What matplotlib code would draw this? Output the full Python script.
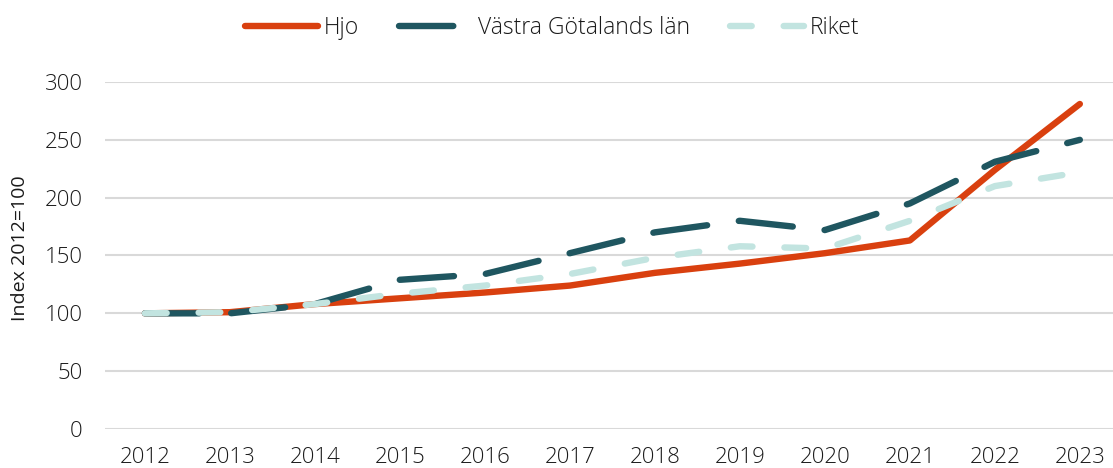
import matplotlib
matplotlib.use("Agg")
import matplotlib.pyplot as plt

years = ["2012", "2013", "2014", "2015", "2016", "2017", "2018", "2019", "2020", "2021", "2022", "2023"]
hjo = [100, 101, 108, 113, 118, 124, 135, 143, 152, 163, 224, 281]
vgr = [100, 100, 108, 129, 134, 152, 170, 180, 172, 195, 231, 250]
riket = [100, 101, 108, 117, 124, 134, 148, 158, 156, 180, 210, 222]
yticks = [0, 50, 100, 150, 200, 250, 300]

plt.rcParams['font.family'] = ['Open Sans', 'DejaVu Sans']
plt.rcParams['font.weight'] = 'light'

TXT = "#1a1a1a"
fig = plt.figure(figsize=(11.13, 4.68), dpi=100)
ax = fig.add_axes([105/1113, 1-429/468, 1-105/1113, (429-82)/468])

x = list(range(len(years)))
lw = 4.6
ax.plot(x, hjo, color="#D9400F", lw=lw, solid_capstyle='round', solid_joinstyle='round', label="Hjo", zorder=3)
ax.plot(x, vgr, color="#1F5660", lw=lw, dashes=(8.5, 5), dash_capstyle='round', label="Västra Götalands län", zorder=4)
ax.plot(x, riket, color="#C2E4E0", lw=lw, dashes=(3.4, 5), dash_capstyle='round', label="Riket", zorder=5)

ax.set_xlim(-0.47, 11.39)
ax.set_ylim(0, 300)
ax.set_yticks(yticks)
ax.set_xticks(x)
ax.set_xticklabels(years)
ax.grid(axis='y', color="#D9D9D9", lw=1.5)
ax.set_axisbelow(True)
for s in ax.spines.values():
    s.set_visible(False)
ax.tick_params(axis='both', length=0, labelsize=16, labelcolor=TXT)
ax.tick_params(axis='y', pad=16)
ax.tick_params(axis='x', pad=13)
ax.set_ylabel("Index 2012=100", fontsize=14, color=TXT)
ax.yaxis.set_label_coords(-0.075, 0.52)

leg = fig.legend(loc='upper center', bbox_to_anchor=(0.496, 1.01), ncol=3, frameon=False,
                 fontsize=16.5, handlelength=3.2, columnspacing=1.75, handletextpad=0.25)
for t in leg.get_texts():
    t.set_color(TXT)

fig.savefig("out.png", dpi=100)
